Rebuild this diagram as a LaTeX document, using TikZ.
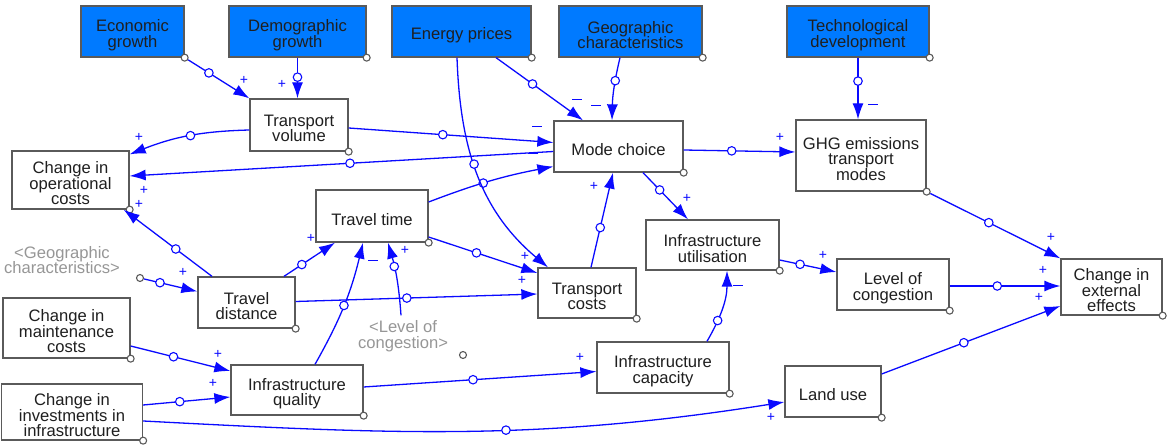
\documentclass[tikz,border=0pt]{standalone}
\usepackage{fontspec}
\setmainfont{Liberation Sans}
\usetikzlibrary{arrows.meta}

\definecolor{varblue}{RGB}{0,122,255}
\definecolor{linkblue}{RGB}{10,10,255}
\definecolor{edgegray}{RGB}{90,90,90}
\definecolor{shadowgray}{RGB}{150,150,150}
\newcommand{\mns}{\rule[3.6pt]{9.5pt}{1.2pt}}

\tikzset{
  var/.style 2 args={draw=edgegray, line width=1.3pt, fill=white, text=black!88,
    minimum width=#1, minimum height=#2, inner sep=0pt, align=center,
    font=\fontsize{16.6}{15.5}\selectfont,
    execute at begin node={\setbox2=\hbox\bgroup},
    execute at end node={\egroup\vrule width 0pt height\ht2 depth\dp2\smash{\lower3.5pt\box2}}},
  exo/.style 2 args={var={#1}{#2}, fill=varblue},
  shadow/.style={text=shadowgray, align=center, inner sep=1pt,
    font=\fontsize{16.6}{15.5}\selectfont},
  link/.style={draw=linkblue, line width=1.3pt, -{Latex[length=16pt,width=11pt]}},
  ring/.style={circle, draw=linkblue, fill=white, line width=1.1pt, inner sep=0pt, minimum size=8.5pt},
  knob/.style={circle, draw=edgegray, fill=white, line width=1.1pt, inner sep=0pt, minimum size=7pt},
  sgn/.style={text=linkblue, inner sep=0pt, font=\fontsize{14}{14}\selectfont}
}

\begin{document}
\begin{tikzpicture}[x=1pt, y=-1pt]
    \useasboundingbox (0,0) rectangle (1167,446);

    % 外生变量（蓝色方框）
    \node[exo={103pt}{51pt}] (econ)   at (132.5,31.5) {Economic\\growth};
    \node[exo={137pt}{51pt}] (demo)   at (297.5,31.5) {Demographic\\growth};
    \node[exo={139pt}{51pt}] (energy) at (461.5,31.5) {Energy prices};
    \node[exo={143pt}{51pt}] (geo)    at (630.5,31.5) {Geographic\\characteristics};
    \node[exo={142pt}{51pt}] (tech)   at (858,31.5)   {Technological\\development};

    % 内生变量
    \node[var={98pt}{52pt}]  (tvol)    at (299,125)    {Transport\\volume};
    \node[var={117pt}{58pt}] (opcost)  at (70.5,180)   {Change in\\operational\\costs};
    \node[var={129pt}{51pt}] (mode)    at (618.5,146.5) {Mode choice};
    \node[var={130pt}{71pt}] (ghg)     at (861,155.5)  {GHG emissions\\transport\\modes};
    \node[var={112pt}{52pt}] (ttime)   at (372,216)    {Travel time};
    \node[var={133pt}{50pt}] (infutil) at (712.5,245)  {Infrastructure\\utilisation};
    \node[var={98pt}{50pt}]  (tcost)   at (587,293)    {Transport\\costs};
    \node[var={97pt}{51pt}]  (tdist)   at (246.5,302.5) {Travel\\distance};
    \node[var={112pt}{51pt}] (congest) at (893,284.5)  {Level of\\congestion};
    \node[var={101pt}{56pt}] (extern)  at (1111.5,287) {Change in\\external\\effects};
    \node[var={127pt}{60pt}] (maint)   at (66.5,328)   {Change in\\maintenance\\costs};
    \node[var={132pt}{50pt}] (infqual) at (297,390)    {Infrastructure\\quality};
    \node[var={132pt}{51pt}] (infcap)  at (663,367.5)  {Infrastructure\\capacity};
    \node[var={96pt}{51pt}]  (landuse) at (833,391.5)  {Land use};
    \node[var={141pt}{56pt}] (invest)  at (72,412)     {Change in\\investments in\\infrastructure};

    % 影子变量
    \node[shadow] (geoS)  at (62,260)  {<Geographic\\characteristics>};
    \node[shadow] (congS) at (403,336) {<Level of\\congestion>};

    % 右下角小圆圈
    \foreach \n in {econ,demo,energy,geo,tech,tvol,opcost,mode,ghg,ttime,infutil,
                    tcost,tdist,congest,extern,maint,infqual,infcap,landuse,invest}
        \node[knob] (\n-k) at (\n.south east) {};
    \node[knob] (geoS-k)  at (140,278) {};
    \node[knob] (congS-k) at (463,355) {};

    % 因果箭头
    \draw[link] (econ-k) -- node[ring,pos=.34] (r1) {} (tvol.north west);
    \draw[link] (demo.south) -- node[ring,pos=.48] (r2) {} (demo.south |- tvol.north);
    \draw[link] ([shift={(0,5)}]tvol.west) to[bend right=10] node[ring,pos=.48] (r3) {} ([shift={(0,4)}]opcost.north east);
    \draw[link] ([shift={(0,3)}]tvol.east) -- node[ring,pos=.46] (r4) {} ([shift={(0,-4)}]mode.west);
    \draw[link] ([shift={(0,5)}]mode.west) -- node[ring,pos=.48] (r5) {} ([shift={(0,-4)}]opcost.east);
    \draw[link] ([shift={(-34.5,0)}]tdist.north) -- node[ring,pos=.41] (r6) {} ([shift={(-6,0)}]opcost.south east);
    \draw[link] (geoS-k) -- node[ring,pos=.3] (r7) {} ([shift={(0,-11)}]tdist.west);
    \draw[link] ([shift={(37.5,0)}]tdist.north) -- node[ring,pos=.35] (r8) {} ([shift={(-37,0)}]ttime.south);
    \draw[link] ([shift={(0,-1)}]tdist.east) -- node[ring,pos=.46] (r9) {} ([shift={(0,1)}]tcost.west);
    \draw[link] ([shift={(0,-14)}]ttime.east) to[bend left=5] node[ring,pos=.44] (r10) {} ([shift={(0,20)}]mode.west);
    \draw[link] ([shift={(0,21)}]ttime.east) -- node[ring,pos=.44] (r11) {} ([shift={(0,-20)}]tcost.west);
    \draw[link] ([shift={(-4.5,0)}]energy.south) to[out=-88,in=140] node[ring,pos=.45] (r12) {} ([shift={(-39,0)}]tcost.north);
    \draw[link] ([shift={(34.5,0)}]energy.south) -- node[ring,pos=.42] (r13) {} ([shift={(-35.5,0)}]mode.north);
    \draw[link] ([shift={(-10.5,0)}]geo.south) to[bend right=6] node[ring,pos=.36] (r14) {} ([shift={(-6.5,0)}]mode.north);
    \draw[link] ([shift={(0,3.5)}]mode.east) -- node[ring,pos=.43] (r15) {} ([shift={(0,-3.5)}]ghg.west);
    \draw[link] (tech.south) -- node[ring,pos=.38] (r16) {} (tech.south |- ghg.north);
    \draw[link] ([shift={(4,0)}]tcost.north) -- node[ring,pos=.42] (r17) {} ([shift={(-5.5,0)}]mode.south);
    \draw[link] ([shift={(24.5,0)}]mode.south) -- node[ring,pos=.37] (r18) {} ([shift={(-24.5,0)}]infutil.north);
    \draw[link] ([shift={(0,15)}]infutil.east) -- node[ring,pos=.36] (r19) {} ([shift={(0,-12.5)}]congest.west);
    \draw[link] (ghg-k) -- node[ring,pos=.45] (r20) {} (extern.north west);
    \draw[link] ([shift={(0,1.5)}]congest.east) -- node[ring,pos=.43] (r21) {} ([shift={(0,-1)}]extern.west);
    \draw[link] ([shift={(0,-17.5)}]landuse.east) -- node[ring,pos=.46] (r22) {} ([shift={(0,19)}]extern.west);
    \draw[link] ([shift={(0,18)}]maint.east) -- node[ring,pos=.43] (r23) {} ([shift={(0,-19)}]infqual.west);
    \draw[link] ([shift={(0,-7)}]invest.east) -- node[ring,pos=.42] (r24) {} ([shift={(0,7)}]infqual.west);
    \draw[link] ([shift={(0,9)}]invest.east) to[out=-3,in=189] node[ring,pos=.57] (r25) {} ([shift={(0,10.5)}]landuse.west);
    \draw[link] ([shift={(18,0)}]infqual.north) to[bend right=8] node[ring,pos=.5] (r26) {} ([shift={(-9,0)}]ttime.south);
    \draw[link] ([shift={(0,-3)}]infqual.east) -- node[ring,pos=.47] (r27) {} ([shift={(0,4)}]infcap.west);
    \draw[link] ([shift={(44,0)}]infcap.north) to[out=60,in=-90] node[ring,pos=.3] (r28) {} ([shift={(14.5,0)}]infutil.south);
    \draw[link] ([shift={(-2,-4)}]congS.north) to[bend right=6] node[ring,pos=.68] (r29) {} ([shift={(16,0)}]ttime.south);

    % 极性符号
    \foreach \x/\y/\s [count=\i] in {244/80/+, 282/84/+, 139/137/+, 537/128/\mns, 144/190/+,
            139/204/+, 183/272/+, 311/238/+, 522/280/+, 533/155/\mns, 525/256/+,
            577/101/\mns, 596/107/\mns, 780/137/+, 873/106/\mns, 594/186/+, 687/198/+,
            823/255/+, 1051/237/+, 1043/270/+, 1039/297/+, 218/354/+, 213/383/+,
            771/417/+, 373/262/\mns, 580/357/+, 738/287/\mns, 405/250/+}
        \node[sgn] (s\i) at (\x,\y) {\s};
\end{tikzpicture}
\end{document}
